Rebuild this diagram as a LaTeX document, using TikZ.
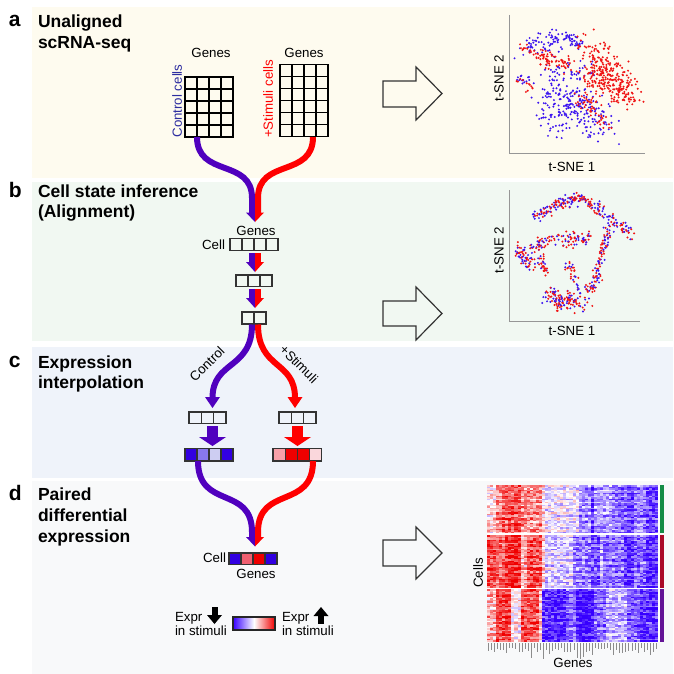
\documentclass[tikz,border=0pt]{standalone}
\usepackage{fontspec}
\setmainfont{Liberation Sans}
\definecolor{bgA}{RGB}{254,251,239}
\definecolor{bgB}{RGB}{241,248,242}
\definecolor{bgC}{RGB}{239,243,250}
\definecolor{bgD}{RGB}{248,249,250}
\definecolor{pur}{RGB}{80,0,190}
\definecolor{rd}{RGB}{255,0,0}
\definecolor{ctltxt}{RGB}{45,45,160}
\definecolor{hmblue}{RGB}{55,0,255}
\definecolor{hmred}{RGB}{240,0,0}
\definecolor{sblue}{RGB}{60,20,240}
\definecolor{sred}{RGB}{240,20,20}
\definecolor{axisgray}{RGB}{150,150,150}
\definecolor{sidegreen}{RGB}{20,140,70}
\definecolor{sidered}{RGB}{170,10,40}
\definecolor{sidepur}{RGB}{100,20,150}
\definecolor{c1}{RGB}{50,0,225}\definecolor{c2}{RGB}{136,120,238}
\definecolor{c3}{RGB}{205,205,242}\definecolor{c4}{RGB}{248,160,168}
\definecolor{c5}{RGB}{238,0,0}\definecolor{c6}{RGB}{250,215,220}
\definecolor{c7}{RGB}{240,96,112}
\newcommand\cloud[7]{%
 \foreach \i in {1,...,#2}{%
  \pgfmathsetmacro\t{rnd}%
  \pgfmathsetmacro\px{#3+\t*(#5-#3)+#7*(rand+rand+rand)/1.7}%
  \pgfmathsetmacro\py{#4+\t*(#6-#4)+#7*(rand+rand+rand)/1.7}%
  \fill[#1] (\px,\py) circle[radius=1.1pt];}}
\newcommand\mixcloud[6]{%
 \foreach \i in {1,...,#1}{%
  \pgfmathsetmacro\t{rnd}%
  \pgfmathsetmacro\cc{rnd}%
  \pgfmathsetmacro\px{#2+\t*(#4-#2)+#6*(rand+rand+rand)/1.7}%
  \pgfmathsetmacro\py{#3+\t*(#5-#3)+#6*(rand+rand+rand)/1.7}%
  \ifdim\cc pt<0.45pt\def\dc{sblue}\else\def\dc{sred}\fi
  \fill[\dc] (\px,\py) circle[radius=1.1pt];}}
\newcommand\hmblock[3]{%
 \foreach \ca/\cb/\base in {#3}{%
  \foreach \c in {\ca,...,\cb}{%
   \foreach \r in {1,...,#2}{%
     \pgfmathsetmacro\v{max(-1,min(1,\base+0.32*rand+0.15*sin(\r*263+#1*7)))}%
     \pgfmathsetmacro\p{abs(\v)*100}%
     \ifdim\v pt<0pt\def\hc{hmblue}\else\def\hc{hmred}\fi
     \fill[\hc!\p!white] ({487+\c*3.054},{#1+(\r-1)*1.5}) rectangle +(3.2,1.6);
   }}}}
\begin{document}
\begin{tikzpicture}[x=1pt,y=-1pt,
  every node/.style={inner sep=0pt,outer sep=0pt},
  ttl/.style={font=\fontsize{17.5}{21}\selectfont\bfseries,anchor=base west},
  plab/.style={font=\fontsize{21}{24}\selectfont\bfseries,anchor=base west},
  sm/.style={font=\fontsize{13.3}{15}\selectfont},
  mcell/.style={draw=black,line width=1.3pt},
  bcell/.style={draw=black!80,line width=1.3pt},
  bl/.style={draw=pur,line width=6pt},
  rl/.style={draw=rd,line width=6pt},
  hollow/.style={draw=black!80,line width=1.2pt,line join=miter},
  axisl/.style={draw=axisgray,line width=1pt}]
\pgfmathsetseed{7}
\useasboundingbox (0,0) rectangle (673,674);
\fill[white] (0,0) rectangle (673,674);
\fill[bgA] (32,7) rectangle (673,178);
\fill[bgB] (32,182) rectangle (673,341);
\fill[bgC] (32,347) rectangle (673,478);
\fill[bgD] (32,481) rectangle (673,674);

% panel labels and titles
\node[plab] (la) at (9,27) {a};
\node[ttl] (ta1) at (38,28) {Unaligned};
\node[ttl] (ta2) at (38,49) {scRNA-seq};
\node[plab] (lb) at (9,197) {b};
\node[ttl] (tb1) at (38,197) {Cell state inference};
\node[ttl] (tb2) at (38,217) {(Alignment)};
\node[plab] (lc) at (9,367) {c};
\node[ttl] (tc1) at (38,368) {Expression};
\node[ttl] (tc2) at (38,388) {interpolation};
\node[plab] (ld) at (9,500) {d};
\node[ttl] (td1) at (38,500) {Paired};
\node[ttl] (td2) at (38,521) {differential};
\node[ttl] (td3) at (38,542) {expression};

% panel a matrices
\foreach \i in {0,...,3} \foreach \j in {0,...,4}
  \draw[mcell] ({185+12*\i},{77+12*\j}) rectangle +(12,12);
\foreach \i in {0,...,3} \foreach \j in {0,...,5}
  \draw[mcell] ({280+12*\i},{64.5+12*\j}) rectangle +(12,12);
\node[sm,anchor=base] (gA1) at (211,58) {Genes};
\node[sm,anchor=base] (gA2) at (304,58) {Genes};
\node[sm,rotate=90,text=ctltxt] (ctl) at (177,101) {Control cells};
\node[sm,rotate=90,text=rd] (stim) at (268,99) {+Stimuli cells};
\coordinate (cA) at (197,137);
\coordinate (sA) at (313,137);
\coordinate (mA1) at (252,213);
\coordinate (mA2) at (258,213);
\draw[bl] (cA) .. controls (197,178) and (252,158) .. (252,198) -- (mA1);
\draw[rl] (sA) .. controls (313,178) and (258,158) .. (258,198) -- (mA2);
\fill[pur] (246,212.5) -- (255,212.5) -- (255,222) -- cycle;
\fill[rd] (255,212.5) -- (264,212.5) -- (255,222) -- cycle;

% panel b
\node[sm,anchor=base] (gB) at (256,235) {Genes};
\node[sm,anchor=base east] (cellB) at (225,249) {Cell};
\foreach \i in {0,...,3} \draw[bcell] ({230+12*\i},238.5) rectangle +(12,12);
\foreach \i in {0,...,2} \draw[bcell] ({236+12*\i},275) rectangle +(12,11.5);
\foreach \i in {0,...,1} \draw[bcell] ({242+12*\i},312) rectangle +(12,12);
\fill[pur] (249,253) rectangle (255,262.5); \fill[rd] (255,253) rectangle (261,262.5);
\fill[pur] (246,262) -- (255,262) -- (255,272) -- cycle;
\fill[rd] (255,262) -- (264,262) -- (255,272) -- cycle;
\fill[pur] (249,289) rectangle (255,298.5); \fill[rd] (255,289) rectangle (261,298.5);
\fill[pur] (246,298) -- (255,298) -- (255,308) -- cycle;
\fill[rd] (255,298) -- (264,298) -- (255,308) -- cycle;

% panel c
\coordinate (bB) at (252,324.5);
\coordinate (rB) at (258,324.5);
\coordinate (bC) at (212.5,398);
\coordinate (rC) at (295,398);
\draw[bl] (bB) .. controls (252,370) and (212.5,360) .. (bC);
\draw[rl] (rB) .. controls (258,370) and (295,360) .. (rC);
\fill[pur] (205,397) -- (220,397) -- (212.5,408) -- cycle;
\fill[rd] (287.5,397) -- (302.5,397) -- (295,408) -- cycle;
\node[sm,rotate=45] (ctrlC) at (207,364) {Control};
\node[sm,rotate=-45] (stimC) at (299,364) {+Stimuli};
\foreach \i in {0,...,2} \draw[bcell] ({189+12.3*\i},412) rectangle +(12.3,11.5);
\foreach \i in {0,...,2} \draw[bcell] ({279+12.3*\i},412) rectangle +(12.3,11.5);
\fill[pur] (207,426) rectangle (218,437.5);
\fill[pur] (199,437) -- (226,437) -- (212.5,446) -- cycle;
\fill[rd] (292,426) rectangle (303,437.5);
\fill[rd] (284,437) -- (311,437) -- (297.5,446) -- cycle;
\foreach \i/\cl in {0/c1,1/c2,2/c3,3/c1}
  \draw[bcell,fill=\cl] ({185+12*\i},448.5) rectangle +(12,12.5);
\foreach \i/\cl in {0/c4,1/c5,2/c5,3/c6}
  \draw[bcell,fill=\cl] ({273+12.2*\i},448.5) rectangle +(12.2,12.5);

% panel d
\coordinate (bD) at (198,461);
\coordinate (rD) at (313,461);
\coordinate (mD1) at (252,538);
\coordinate (mD2) at (258,538);
\draw[bl] (bD) .. controls (198,510) and (252,485) .. (252,532) -- (mD1);
\draw[rl] (rD) .. controls (313,510) and (258,485) .. (258,532) -- (mD2);
\fill[pur] (246,537) -- (255,537) -- (255,546.5) -- cycle;
\fill[rd] (255,537) -- (264,537) -- (255,546.5) -- cycle;
\node[sm,anchor=base east] (cellD) at (226,562) {Cell};
\foreach \i/\cl in {0/c1,1/c7,2/c5,3/c1}
  \draw[bcell,fill=\cl] ({229+12*\i},553) rectangle +(12,11.5);
\node[sm,anchor=base] (gD) at (256,578) {Genes};
% legend
\node[sm,anchor=base west] (e1) at (175,621) {Expr};
\node[sm,anchor=base west] (e2) at (175,635) {in stimuli};
\fill[black] (211.5,607) rectangle (217.5,615.5);
\fill[black] (207,615) -- (222,615) -- (214.5,624) -- cycle;
\shade[left color=hmblue,right color=hmred,middle color=white] (233,617) rectangle (275,630);
\draw[black!85,line width=1.2pt] (233,617) rectangle (275,630);
\node[sm,anchor=base west] (e3) at (282,621) {Expr};
\node[sm,anchor=base west] (e4) at (282,635) {in stimuli};
\fill[black] (313.5,616) -- (328.5,616) -- (321,607) -- cycle;
\fill[black] (318,615.5) rectangle (324,624);

% hollow arrows
\draw[hollow] (383,81) -- (416,81) -- (416,67) -- (442,93.5) -- (416,120) -- (416,107) -- (383,107) -- cycle;
\draw[hollow] (383,301) -- (416,301) -- (416,287) -- (442,313.5) -- (416,340) -- (416,326) -- (383,326) -- cycle;
\draw[hollow] (383,540) -- (416,540) -- (416,527) -- (442,553) -- (416,579) -- (416,566) -- (383,566) -- cycle;

% scatter a
\draw[axisl] (509,15) -- (509,153) -- (645,153);
\node[sm,rotate=90] (ya) at (499,78) {t-SNE 2};
\node[sm] (xa) at (572,167) {t-SNE 1};
\cloud{sblue}{80}{520}{47}{580}{38}{10}
\cloud{sblue}{25}{555}{32}{580}{45}{6}
\cloud{sblue}{15}{518}{75}{532}{85}{5}
\cloud{sblue}{40}{550}{70}{598}{70}{8}
\cloud{sblue}{220}{548}{90}{603}{125}{17}
\cloud{sblue}{25}{545}{112}{560}{137}{8}
\cloud{sred}{70}{533}{55}{570}{66}{7}
\cloud{sred}{110}{585}{45}{620}{75}{13}
\cloud{sred}{200}{590}{75}{634}{95}{14}
\cloud{sred}{12}{520}{78}{530}{88}{5}
\cloud{sred}{35}{575}{95}{598}{112}{8}
\cloud{sred}{15}{598}{118}{612}{128}{5}
\cloud{sred}{10}{520}{45}{530}{50}{4}

% scatter b
\draw[axisl] (509,190) -- (509,321) -- (640,321);
\node[sm,rotate=90] (yb) at (499,250) {t-SNE 2};
\node[sm] (xb) at (572,331) {t-SNE 1};
\mixcloud{60}{536}{217}{560}{203}{5}
\mixcloud{60}{560}{203}{582}{198}{5}
\mixcloud{50}{582}{198}{603}{212}{5}
\mixcloud{50}{603}{212}{634}{236}{5}
\mixcloud{40}{610}{225}{603}{250}{4}
\mixcloud{40}{603}{250}{596}{280}{4}
\mixcloud{30}{596}{280}{588}{292}{5}
\mixcloud{90}{540}{240}{592}{238}{6}
\mixcloud{60}{518}{250}{530}{266}{7}
\mixcloud{20}{530}{248}{542}{244}{4}
\mixcloud{30}{540}{255}{545}{272}{4}
\mixcloud{30}{568}{262}{578}{290}{4}
\mixcloud{130}{548}{298}{585}{302}{9}

% heatmap
\hmblock{485}{32}{0/2/0.15,3/4/0.45,5/10/0.65,11/17/0.45,18/18/0.1,19/29/-0.1,30/33/-0.45,34/34/-0.8,35/40/-0.4,41/45/-0.55,46/47/-0.75,48/51/-0.5,52/55/-0.75}
\hmblock{535}{35}{0/2/0.7,3/5/0.6,6/10/0.85,11/12/0.3,13/17/0.7,18/18/0.2,19/27/-0.2,28/33/-0.5,34/36/-0.7,37/37/-0.3,38/44/-0.55,45/47/-0.8,48/51/-0.6,52/55/-0.85}
\hmblock{589}{35}{0/2/0.3,3/7/0.75,8/10/0.05,11/16/0.7,17/17/0.2,18/25/-0.85,26/28/-0.6,29/34/-0.95,35/38/-0.6,39/45/-0.3,46/49/-0.6,50/55/-0.8}
\fill[white] (487,533) rectangle (659,535);
\fill[white] (487,587.5) rectangle (659,589);
\fill[bgD] (487,641.5) rectangle (665,643);
\fill[white] (658,485) rectangle (659.5,641.5);
\fill[sidegreen] (659.5,485) rectangle (664,533);
\fill[sidered] (659.5,535) rectangle (664,587.5);
\fill[sidepur] (659.5,589) rectangle (664,641.5);
\foreach \c in {0,...,55}{%
  \pgfmathsetmacro\L{5+5*rnd+6*(rnd>0.8)}%
  \draw[black!45,line width=1pt] ({487+\c*3.054+1.5},643) -- ++(0,\L);}
\node[sm,rotate=90] (cellsH) at (478,573) {Cells};
\node[sm,anchor=base] (genesH) at (573,667) {Genes};
\end{tikzpicture}
\end{document}
